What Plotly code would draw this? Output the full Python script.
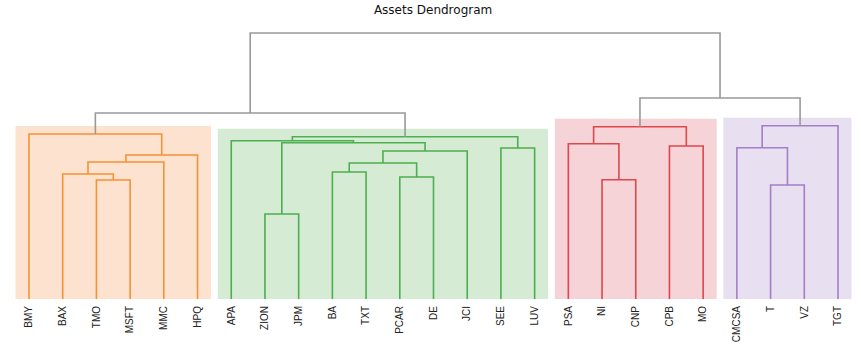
import plotly.graph_objects as go

# Leaf order (left to right)
labels = ["BMY", "BAX", "TMO", "MSFT", "MMC", "HPQ",
          "APA", "ZION", "JPM", "BA", "TXT", "PCAR", "DE", "JCI", "SEE", "LUV",
          "PSA", "NI", "CNP", "CPB", "MO",
          "CMCSA", "T", "VZ", "TGT"]

# Merges: children (leaf name or "n<k>") and merge height
merge_left = ["TMO", "BAX", "n1", "n2", "BMY",
              "ZION", "BA", "PCAR", "n6", "n8", "n5", "APA", "SEE", "n11",
              "NI", "PSA", "CPB", "n15",
              "T", "CMCSA", "n19",
              "n4", "n17", "n21"]
merge_right = ["MSFT", "n0", "MMC", "HPQ", "n3",
               "JPM", "TXT", "DE", "n7", "JCI", "n9", "n10", "LUV", "n12",
               "CNP", "n14", "MO", "n16",
               "VZ", "n18", "TGT",
               "n13", "n20", "n22"]
merge_height = [1.19, 1.25, 1.37, 1.44, 1.65,
                0.85, 1.27, 1.22, 1.36, 1.48, 1.563, 1.583, 1.51, 1.623,
                1.193, 1.553, 1.53, 1.723,
                1.14, 1.513, 1.733,
                1.86, 2.01, 2.66]

# Cluster roots (merge index) and their colours
cluster_roots = [4, 13, 17, 20]
cluster_line_colors = ["#f39336", "#4caf50", "#e0474c", "#a47ec9"]
cluster_bg_colors = ["#fde3cf", "#d5ebd3", "#f5d3d6", "#e8dff1"]
above_color = "#999999"

title_text = "Assets Dendrogram"

# ---- compute positions ----
leaf_x = {name: i for i, name in enumerate(labels)}
node_x, node_h, node_leaves = {}, {}, {}


def pos(ref):
    if ref.startswith("n") and ref[1:].isdigit():
        k = int(ref[1:])
        return node_x[k], node_h[k], node_leaves[k]
    return float(leaf_x[ref]), 0.0, [leaf_x[ref]]


for k in range(len(merge_height)):
    xl, hl, ll = pos(merge_left[k])
    xr, hr, lr = pos(merge_right[k])
    node_x[k] = (xl + xr) / 2
    node_h[k] = merge_height[k]
    node_leaves[k] = ll + lr

# colour of each merge
merge_color = [above_color] * len(merge_height)


def children(k):
    out = []
    for ref in (merge_left[k], merge_right[k]):
        if ref.startswith("n") and ref[1:].isdigit():
            out.append(int(ref[1:]))
    return out


for ci, r in enumerate(cluster_roots):
    stack = [r]
    while stack:
        k = stack.pop()
        merge_color[k] = cluster_line_colors[ci]
        stack.extend(children(k))

fig = go.Figure()

# background boxes
pad_x = 0.4
pad_y = 0.08
for ci, r in enumerate(cluster_roots):
    lv = node_leaves[r]
    fig.add_shape(type="rect", xref="x", yref="y",
                  x0=min(lv) - pad_x, x1=max(lv) + pad_x,
                  y0=0, y1=node_h[r] + pad_y,
                  fillcolor=cluster_bg_colors[ci], line=dict(width=0),
                  layer="below")

# links grouped by colour
groups = {}
for k in range(len(merge_height)):
    xl, hl, _ = pos(merge_left[k])
    xr, hr, _ = pos(merge_right[k])
    h = merge_height[k]
    gx, gy = groups.setdefault(merge_color[k], ([], []))
    gx += [xl, xl, xr, xr, None]
    gy += [hl, h, h, hr, None]

for col, (gx, gy) in groups.items():
    fig.add_trace(go.Scatter(x=gx, y=gy, mode="lines",
                             line=dict(color=col, width=1.6),
                             hoverinfo="skip", showlegend=False))

px_per_unit = 809 / 24
x0 = -29 / px_per_unit
x1 = x0 + 861 / px_per_unit

fig.update_layout(
    width=861, height=352,
    margin=dict(l=0, r=0, t=20, b=53),
    paper_bgcolor="white", plot_bgcolor="white",
    showlegend=False,
    title=dict(text=title_text, x=0.503, xanchor="center",
               y=1 - 10 / 352, yanchor="middle", yref="container",
               font=dict(family="DejaVu Sans", size=12, color="#111111")),
    xaxis=dict(range=[x0, x1], tickmode="array",
               tickvals=list(range(len(labels))), ticktext=labels,
               tickangle=-90, showgrid=False, zeroline=False,
               showline=False, ticks="", ticklabelstandoff=4,
               tickfont=dict(family="Liberation Sans", size=10, color="#222222")),
    yaxis=dict(range=[0, 2.79], showgrid=False, zeroline=False,
               showline=False, showticklabels=False, ticks=""),
)

fig.write_html("out.html")
